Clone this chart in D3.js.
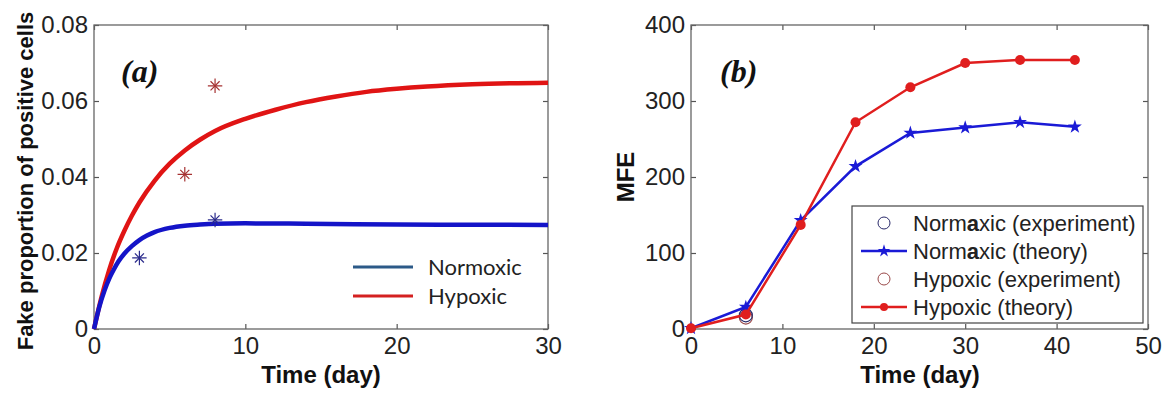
<!DOCTYPE html>
<meta charset="utf-8">
<style>
body { margin: 0; background: #fff; }
svg { display: block; }
.axis text { font: 24px "Liberation Sans", Arial, sans-serif; fill: #222; }
.axis line { stroke: #555; stroke-width: 1.2; }
.axis path { display: none; }
.frame { fill: none; stroke: #666; stroke-width: 1.3; }
.lbl { font: bold 24px "Liberation Sans", Arial, sans-serif; fill: #111; }
.tag { font: italic bold 32px "Liberation Serif", "Times New Roman", serif; fill: #111; }
.leg-a { font: 22px Lato, sans-serif; fill: #222; }
.leg-b { font: 22px "Liberation Sans", Arial, sans-serif; fill: #222; }
</style>
<svg class="chart" width="1165" height="394"></svg>
<script src="https://cdn.jsdelivr.net/npm/d3@7/dist/d3.min.js"></script>
<script>
// panel (a): simulated fraction curves and measured points
var tCurveNorm = [0, 0.35, 0.7, 1.0, 1.3, 1.6, 2, 2.5, 3, 3.5, 4, 5, 6, 7, 8, 10, 14, 20, 30];
var vCurveNorm = [0, 0.0058, 0.0102, 0.0132, 0.0156, 0.0177, 0.0198, 0.0218, 0.0234, 0.0246, 0.0255, 0.0266, 0.0272, 0.0275, 0.0277, 0.0278, 0.0277, 0.0275, 0.0274];
var tCurveHyp = [0, 0.5, 1, 1.5, 2, 2.5, 3, 4, 5, 6, 7, 8, 10, 12, 14, 16, 18, 20, 22, 25, 30];
var vCurveHyp = [0, 0.0085, 0.0155, 0.0212, 0.0258, 0.0298, 0.0333, 0.0390, 0.0435, 0.0470, 0.0498, 0.0521, 0.0553, 0.0577, 0.0597, 0.0612, 0.0624, 0.0632, 0.0638, 0.0644, 0.0648];
var tStarNorm = [3, 8];
var vStarNorm = [0.0187, 0.0287];
var tStarHyp = [6, 8];
var vStarHyp = [0.0407, 0.064];
var yTicksA = [0, 0.02, 0.04, 0.06, 0.08];
var xTicksA = [0, 10, 20, 30];

// panel (b): MFE over time
var days = [0, 6, 12, 18, 24, 30, 36, 42];
var mfeNormTheory = [1, 29, 143, 214, 258, 265, 272, 266];
var mfeHypTheory = [1, 19, 137, 272, 318, 350, 354, 354];
var expDays = [6];
var mfeNormExp = [18];
var mfeHypExp = [15];
var yTicksB = [0, 100, 200, 300, 400];
var xTicksB = [0, 10, 20, 30, 40, 50];

var svg = d3.select(".chart");

function frame(x, y, xt, yt, fmt) {
	var g = svg.append("g");
	g.append("g").attr("class", "axis")
		.attr("transform", "translate(0," + y.range()[0] + ")")
		.call(d3.axisBottom(x).tickValues(xt).tickSize(-5).tickPadding(8));
	g.append("g").attr("class", "axis")
		.attr("transform", "translate(0," + y.range()[1] + ")")
		.call(d3.axisTop(x).tickValues(xt).tickSize(-5).tickFormat(""));
	g.append("g").attr("class", "axis")
		.attr("transform", "translate(" + x.range()[0] + ",0)")
		.call(d3.axisLeft(y).tickValues(yt).tickSize(-5).tickPadding(6).tickFormat(fmt));
	g.append("g").attr("class", "axis")
		.attr("transform", "translate(" + x.range()[1] + ",0)")
		.call(d3.axisRight(y).tickValues(yt).tickSize(-5).tickFormat(""));
	g.append("rect").attr("class", "frame")
		.attr("x", x.range()[0]).attr("y", y.range()[1])
		.attr("width", x.range()[1] - x.range()[0])
		.attr("height", y.range()[0] - y.range()[1]);
}

// ---------- panel (a) ----------
var xa = d3.scaleLinear().domain([0, 30]).range([94, 548]);
var ya = d3.scaleLinear().domain([0, 0.08]).range([329, 25]);

frame(xa, ya, xTicksA, yTicksA, function(d){ return d === 0 ? "0" : d3.format(".2f")(d); });

var lineA = d3.line()
	.x(function(d){ return xa(d[0]); })
	.y(function(d){ return ya(d[1]); })
	.curve(d3.curveMonotoneX);

svg.append("path")
	.datum(d3.zip(tCurveHyp, vCurveHyp))
	.attr("d", lineA)
	.attr("fill", "none").attr("stroke", "#e01414").attr("stroke-width", 4.5);
svg.append("path")
	.datum(d3.zip(tCurveNorm, vCurveNorm))
	.attr("d", lineA)
	.attr("fill", "none").attr("stroke", "#1414c8").attr("stroke-width", 4.5);

// asterisk markers: plus + times
var plus = d3.symbol().type(d3.symbolPlus).size(70);
var times = d3.symbol().type(d3.symbolTimes).size(55);
function stars(ts, vs, col) {
	var g = svg.append("g").selectAll("g")
		.data(d3.zip(ts, vs))
		.enter().append("g")
		.attr("transform", function(d){ return "translate(" + xa(d[0]) + "," + ya(d[1]) + ")"; });
	g.append("path").attr("d", plus).attr("fill", "none").attr("stroke", col).attr("stroke-width", 1.2);
	g.append("path").attr("d", times).attr("fill", "none").attr("stroke", col).attr("stroke-width", 1.2);
}
stars(tStarNorm, vStarNorm, "#2b2b8c");
stars(tStarHyp, vStarHyp, "#a63232");

svg.append("text").attr("class", "tag").attr("x", 121).attr("y", 82).text("(a)");

// legend (a)
var legA = [["Normoxic", "#2c5a88", 267], ["Hypoxic", "#d42020", 296]];
legA.forEach(function(d){
	svg.append("line").attr("x1", 353).attr("x2", 413).attr("y1", d[2]).attr("y2", d[2])
		.attr("stroke", d[1]).attr("stroke-width", 3);
	svg.append("text").attr("class", "leg-a").attr("x", 428).attr("y", d[2] + 8).text(d[0]);
});

svg.append("text").attr("class", "lbl")
	.attr("transform", "translate(33,181) rotate(-90)")
	.attr("text-anchor", "middle")
	.style("font-size", "22px")
	.text("Fake proportion of positive cells");
svg.append("text").attr("class", "lbl").attr("x", 321).attr("y", 383)
	.attr("text-anchor", "middle").text("Time (day)");

// ---------- panel (b) ----------
var xb = d3.scaleLinear().domain([0, 50]).range([691, 1148]);
var yb = d3.scaleLinear().domain([0, 400]).range([329, 25]);

frame(xb, yb, xTicksB, yTicksB, d3.format("d"));

var lineB = d3.line()
	.x(function(d){ return xb(d[0]); })
	.y(function(d){ return yb(d[1]); });

// experiment circles
svg.append("g").selectAll("circle")
	.data(d3.zip(expDays, mfeHypExp))
	.enter().append("circle")
	.attr("cx", function(d){ return xb(d[0]); }).attr("cy", function(d){ return yb(d[1]); })
	.attr("r", 6.5).attr("fill", "none").attr("stroke", "#9a4a4a").attr("stroke-width", 1.2);
svg.append("g").selectAll("circle")
	.data(d3.zip(expDays, mfeNormExp))
	.enter().append("circle")
	.attr("cx", function(d){ return xb(d[0]); }).attr("cy", function(d){ return yb(d[1]); })
	.attr("r", 6.5).attr("fill", "none").attr("stroke", "#2a2a6a").attr("stroke-width", 1.2);

var star = d3.symbol().type(d3.symbolStar).size(60);
svg.append("path")
	.datum(d3.zip(days, mfeNormTheory))
	.attr("d", lineB)
	.attr("fill", "none").attr("stroke", "#1a1ad6").attr("stroke-width", 2.5);
svg.append("g").selectAll("path")
	.data(d3.zip(days, mfeNormTheory))
	.enter().append("path")
	.attr("d", star)
	.attr("transform", function(d){ return "translate(" + xb(d[0]) + "," + yb(d[1]) + ")"; })
	.attr("fill", "#1a1ad6");

svg.append("path")
	.datum(d3.zip(days, mfeHypTheory))
	.attr("d", lineB)
	.attr("fill", "none").attr("stroke", "#e01e1e").attr("stroke-width", 2.5);
svg.append("g").selectAll("circle")
	.data(d3.zip(days, mfeHypTheory))
	.enter().append("circle")
	.attr("cx", function(d){ return xb(d[0]); }).attr("cy", function(d){ return yb(d[1]); })
	.attr("r", 5).attr("fill", "#e01e1e");

svg.append("text").attr("class", "tag").attr("x", 720).attr("y", 82).text("(b)");

// legend (b)
svg.append("rect").attr("x", 852).attr("y", 206).attr("width", 291).attr("height", 117)
	.attr("fill", "#fff").attr("stroke", "#444").attr("stroke-width", 1.2);
var legB = [
	{ pre: "Norm", bold: "a", post: "xic (experiment)", kind: "circle", col: "#2a2a6a", y: 223 },
	{ pre: "Norm", bold: "a", post: "xic (theory)", kind: "star", col: "#1a1ad6", y: 251 },
	{ pre: "Hypoxic (experiment)", bold: "", post: "", kind: "circle", col: "#9a4a4a", y: 279 },
	{ pre: "Hypoxic (theory)", bold: "", post: "", kind: "dot", col: "#e01e1e", y: 307 }
];
legB.forEach(function(d){
	if (d.kind === "circle") {
		svg.append("circle").attr("cx", 884).attr("cy", d.y).attr("r", 6)
			.attr("fill", "none").attr("stroke", d.col).attr("stroke-width", 1);
	} else {
		svg.append("line").attr("x1", 861).attr("x2", 907).attr("y1", d.y).attr("y2", d.y)
			.attr("stroke", d.col).attr("stroke-width", 2.5);
		if (d.kind === "star") {
			svg.append("path").attr("d", d3.symbol().type(d3.symbolStar).size(50))
				.attr("transform", "translate(884," + d.y + ")").attr("fill", d.col);
		} else {
			svg.append("circle").attr("cx", 884).attr("cy", d.y).attr("r", 4).attr("fill", d.col);
		}
	}
	var t = svg.append("text").attr("class", "leg-b").attr("x", 913).attr("y", d.y + 8);
	t.append("tspan").text(d.pre);
	if (d.bold) t.append("tspan").style("font-weight", "bold").text(d.bold);
	if (d.post) t.append("tspan").text(d.post);
});

svg.append("text").attr("class", "lbl")
	.attr("transform", "translate(634,177) rotate(-90)")
	.attr("text-anchor", "middle").text("MFE");
svg.append("text").attr("class", "lbl").attr("x", 920).attr("y", 383)
	.attr("text-anchor", "middle").text("Time (day)");
</script>
